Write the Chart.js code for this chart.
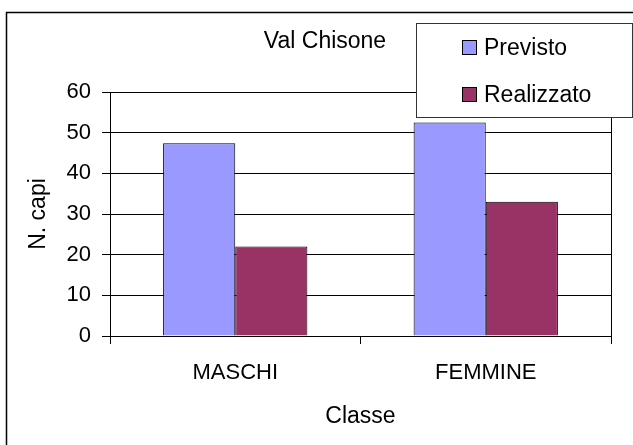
<!DOCTYPE html>
<html>
<head>
<meta charset="utf-8">
<script src="https://cdn.jsdelivr.net/npm/chart.js@4/dist/chart.umd.min.js"></script>
<style>
  html, body { margin: 0; padding: 0; background: #fff; }
  #wrap { width: 633px; height: 445px; position: relative; }
</style>
</head>
<body>
<div id="wrap"><canvas id="chart"></canvas></div>
<script>
const categories = ["MASCHI", "FEMMINE"];
const previsto = [47.4, 52.5];
const realizzato = [22, 33];
const yTicks = [0, 10, 20, 30, 40, 50, 60];

const FONT = "'Liberation Sans', Arial, sans-serif";

// frame, right plot edge, title and boxed legend like the Excel original
const decor = {
  id: "decor",
  beforeDraw(chart) {
    const ctx = chart.ctx;
    ctx.save();
    ctx.fillStyle = "#fff";
    ctx.fillRect(0, 0, chart.width, chart.height);
    ctx.strokeStyle = "#000";
    ctx.lineWidth = 1.5;
    ctx.strokeRect(6.5, 12.5, chart.width + 20, chart.height + 20);
    ctx.restore();
  },
  afterDraw(chart) {
    const ctx = chart.ctx;
    const area = chart.chartArea;
    ctx.save();
    ctx.strokeStyle = "#000";
    ctx.lineWidth = 1;
    ctx.beginPath();
    ctx.moveTo(Math.round(area.right) + 0.5, area.top);
    ctx.lineTo(Math.round(area.right) + 0.5, area.bottom);
    ctx.stroke();

    ctx.fillStyle = "#000";
    ctx.font = "23px " + FONT;
    ctx.textAlign = "center";
    ctx.textBaseline = "alphabetic";
    ctx.fillText("Val Chisone", 325, 48);

    // legend box
    ctx.fillStyle = "#fff";
    ctx.fillRect(416, 23, 216, 94);
    ctx.strokeStyle = "#333";
    ctx.strokeRect(416.5, 23.5, 216, 94);
    ctx.textAlign = "left";
    chart.data.datasets.forEach((ds, i) => {
      const y = 40 + i * 47;
      ctx.fillStyle = ds.backgroundColor;
      ctx.fillRect(462, y, 14, 14);
      ctx.strokeStyle = "#000";
      ctx.strokeRect(462.5, y + 0.5, 14, 14);
      ctx.fillStyle = "#000";
      ctx.fillText(ds.label, 484, y + 15);
    });
    ctx.restore();
  }
};

new Chart(document.getElementById("chart"), {
  type: "bar",
  data: {
    labels: categories,
    datasets: [
      { label: "Previsto", data: previsto, backgroundColor: "#9999FF", borderColor: "#000", borderWidth: 1 },
      { label: "Realizzato", data: realizzato, backgroundColor: "#993366", borderColor: "#000", borderWidth: 1 }
    ]
  },
  options: {
    responsive: true,
    maintainAspectRatio: false,
    animation: false,
    categoryPercentage: 0.576,
    barPercentage: 1,
    layout: { padding: { top: 92, right: 22, left: 0, bottom: 0 } },
    plugins: {
      legend: { display: false },
      title: { display: false },
      tooltip: { enabled: false }
    },
    scales: {
      x: {
        grid: { drawOnChartArea: false, color: "#000", tickLength: 8 },
        border: { color: "#000", width: 1 },
        ticks: { color: "#000", font: { family: FONT, size: 22 }, padding: 16 },
        title: { display: true, text: "Classe", color: "#000", font: { family: FONT, size: 23 }, padding: { top: 0, bottom: 15 } },
        afterFit(scale) { scale.height = 109; }
      },
      y: {
        min: 0,
        max: 60,
        afterBuildTicks(scale) { scale.ticks = yTicks.map(v => ({ value: v })); },
        grid: { color: "#000", tickLength: 8 },
        border: { color: "#000", width: 1 },
        ticks: { color: "#000", font: { family: FONT, size: 22 }, padding: 11 },
        title: { display: true, text: "N. capi", color: "#000", font: { family: FONT, size: 23 }, padding: { top: 25, bottom: 0 } },
        afterFit(scale) { scale.width = 110; }
      }
    }
  },
  plugins: [decor]
});
</script>
</body>
</html>
